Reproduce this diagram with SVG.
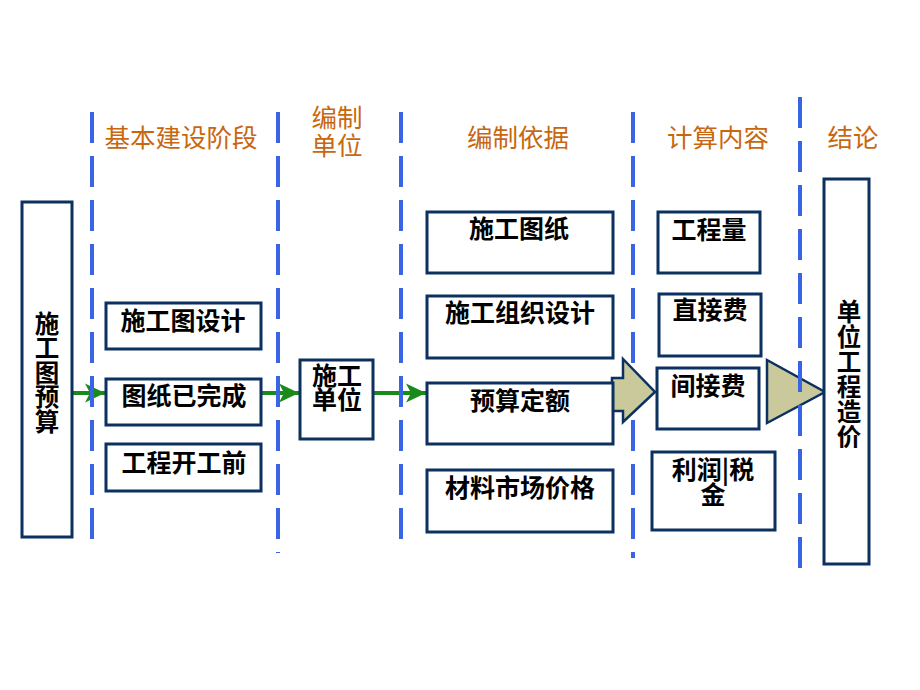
<svg xmlns="http://www.w3.org/2000/svg" width="920" height="690" viewBox="0 0 920 690">
<defs>
<style>
.box{fill:#fff;stroke:#0B3160;stroke-width:3}
.dash{stroke:#3A64E6;stroke-width:4;stroke-dasharray:31 13;fill:none}
.hdr{font-family:"Noto Sans CJK SC","Liberation Sans",sans-serif;font-size:25.5px;fill:#C8670E;text-anchor:middle;dominant-baseline:central}
.t{font-family:"Noto Sans CJK SC","Liberation Sans",sans-serif;font-size:25px;font-weight:bold;fill:#000;text-anchor:middle;dominant-baseline:central}
.v{font-size:24.5px}
.g{stroke:#1A8A1A;stroke-width:4;fill:none}
.blk{fill:#C9C99B;stroke:#0B3160;stroke-width:2.5;stroke-linejoin:miter}
</style>
<marker id="ga" markerUnits="userSpaceOnUse" markerWidth="22" markerHeight="22" viewBox="0 0 22 22" refX="21" refY="11" orient="auto">
<path d="M1,1.5 L21,11 L1,20.5 L6,11 Z" fill="#1A8A1A"/>
</marker>
</defs>
<rect width="920" height="690" fill="#fff"/>

<g id="arrow-triangle">
<polygon class="blk" points="767,360 825,392 767,423"/>
</g>

<g id="connectors">
<line class="g" x1="73" y1="393" x2="105" y2="393" marker-end="url(#ga)"/>
<line class="g" x1="262" y1="393" x2="299" y2="393" marker-end="url(#ga)"/>
<line class="g" x1="374" y1="393" x2="426" y2="393" marker-end="url(#ga)"/>
</g>

<g id="lanes">
<line class="dash" x1="92" y1="112" x2="92" y2="540"/>
<line class="dash" x1="278" y1="112" x2="278" y2="553"/>
<line class="dash" x1="401" y1="112" x2="401" y2="540"/>
<line class="dash" x1="633" y1="112" x2="633" y2="558"/>
<line class="dash" x1="800" y1="97" x2="800" y2="568"/>
</g>

<g id="headers">
<text class="hdr" x="181" y="135">基本建设阶段</text>
<text class="hdr" x="337" y="115">编制</text>
<text class="hdr" x="337" y="143">单位</text>
<text class="hdr" x="518" y="135">编制依据</text>
<text class="hdr" x="718" y="135">计算内容</text>
<text class="hdr" x="853" y="135">结论</text>
</g>

<g id="arrow-block">
<polygon class="blk" points="612,378 623,378 623,359 655,392 623,422 623,411 612,411"/>
</g>

<g id="n-shigongtuyusuan">
<rect class="box" x="22" y="202" width="50" height="335"/>
<text class="t v" x="47" y="322">施</text>
<text class="t v" x="47" y="346.5">工</text>
<text class="t v" x="47" y="371">图</text>
<text class="t v" x="47" y="395.5">预</text>
<text class="t v" x="47" y="420">算</text>
</g>

<g id="n-shigongtusheji">
<rect class="box" x="106" y="303" width="155" height="46"/>
<text class="t" x="183" y="319">施工图设计</text>
</g>
<g id="n-tuzhiyiwancheng">
<rect class="box" x="106" y="379" width="155" height="46"/>
<text class="t" x="184" y="394">图纸已完成</text>
</g>
<g id="n-gongchengkaigongqian">
<rect class="box" x="106" y="444" width="155" height="47"/>
<text class="t" x="184" y="461">工程开工前</text>
</g>

<g id="n-shigongdanwei">
<rect class="box" x="300" y="360" width="73" height="79"/>
<text class="t" x="337" y="374">施工</text>
<text class="t" x="337" y="398">单位</text>
</g>

<g id="n-shigongtuzhi">
<rect class="box" x="427" y="212" width="186" height="61"/>
<text class="t" x="519" y="227">施工图纸</text>
</g>
<g id="n-shigongzuzhisheji">
<rect class="box" x="427" y="296" width="186" height="62"/>
<text class="t" x="520" y="311">施工组织设计</text>
</g>
<g id="n-yusuandinge">
<rect class="box" x="427" y="383" width="186" height="61"/>
<text class="t" x="520" y="399">预算定额</text>
</g>
<g id="n-cailiaoshichangjiage">
<rect class="box" x="427" y="470" width="186" height="62"/>
<text class="t" x="520" y="486">材料市场价格</text>
</g>

<g id="n-gongchengliang">
<rect class="box" x="658" y="212" width="102" height="61"/>
<text class="t" x="709" y="228">工程量</text>
</g>
<g id="n-zhijiefei">
<rect class="box" x="659" y="294" width="102" height="62"/>
<text class="t" x="710" y="308">直接费</text>
</g>
<g id="n-jianjiefei">
<rect class="box" x="657" y="368" width="102" height="61"/>
<text class="t" x="708" y="384">间接费</text>
</g>
<g id="n-lirunshuijin">
<rect class="box" x="652" y="452" width="123" height="78"/>
<text class="t" x="713" y="468">利润|税</text>
<text class="t" x="713" y="493">金</text>
</g>

<g id="n-danweigongchengzaojia">
<rect class="box" x="824" y="179" width="45" height="385"/>
<text class="t v" x="849" y="310">单</text>
<text class="t v" x="849" y="335">位</text>
<text class="t v" x="849" y="360">工</text>
<text class="t v" x="849" y="385">程</text>
<text class="t v" x="849" y="410">造</text>
<text class="t v" x="849" y="435">价</text>
</g>
</svg>
